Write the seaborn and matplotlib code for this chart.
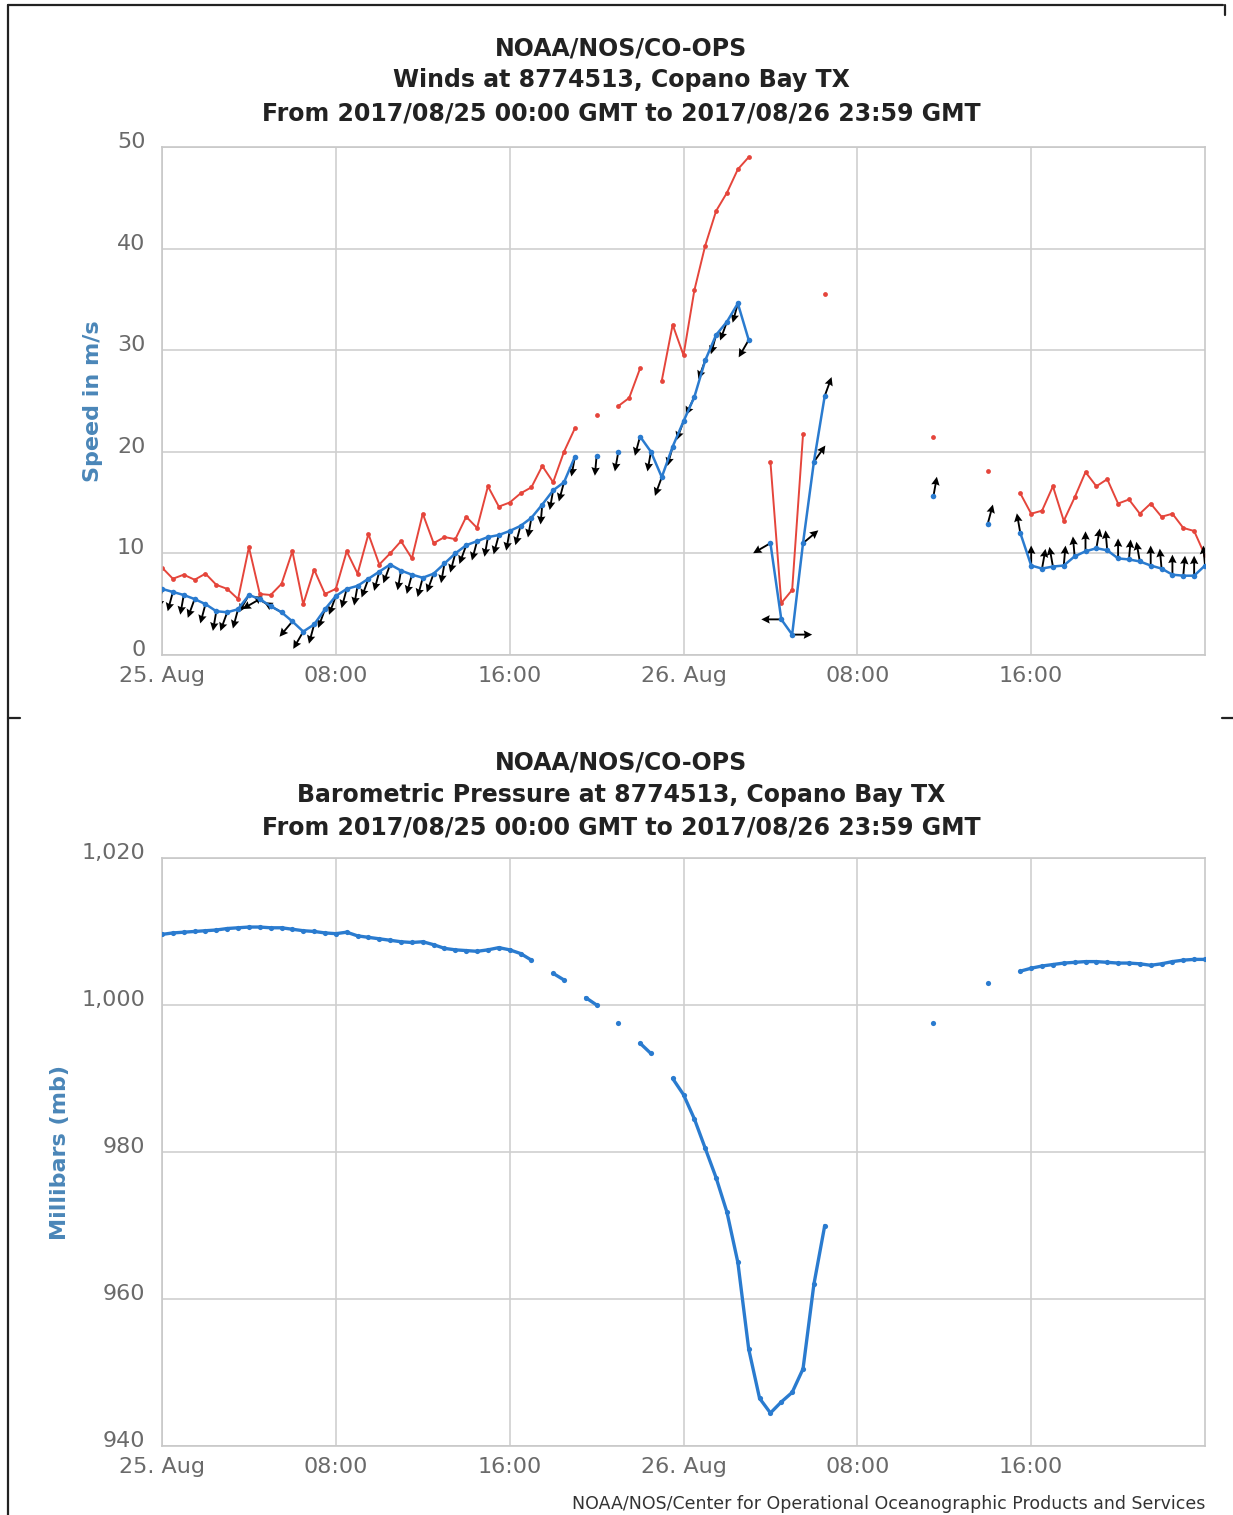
import numpy as np
import pandas as pd
import matplotlib
matplotlib.use("Agg")
import matplotlib.pyplot as plt
import matplotlib.transforms as mtransforms
import seaborn as sns
from matplotlib.lines import Line2D

# 30-minute readings, 25 Aug 00:00 GMT to 27 Aug 00:00 GMT (hours since start)
hours = np.arange(0, 48.5, 0.5)
nan = np.nan

# wind speed (m/s)
speed = [6.5, 6.2, 5.9, 5.5, 5.0, 4.3, 4.2, 4.5,
         5.9, 5.5, 4.8, 4.2, 3.3, 2.3, 3.0, 4.5,
         5.8, 6.5, 6.8, 7.5, 8.2, 8.9, 8.3, 7.9,
         7.6, 8.0, 9.0, 10.0, 10.8, 11.2, 11.6, 11.8,
         12.2, 12.7, 13.5, 14.8, 16.2, 17.0, 19.5, nan,
         19.6, nan, 20.0, nan, 21.5, 20.0, 17.5, 20.5,
         23.0, 25.4, 29.0, 31.5, 32.8, 34.6, 31.0, nan,
         11.0, 3.5, 2.0, 11.0, 19.0, 25.5, nan, nan,
         nan, nan, nan, nan, nan, nan, nan, 15.6,
         nan, nan, nan, nan, 12.9, nan, nan, 12.0,
         8.8, 8.5, 8.7, 8.8, 9.7, 10.2, 10.5, 10.3,
         9.5, 9.4, 9.2, 8.8, 8.5, 7.9, 7.8, 7.8,
         8.8]

# wind gust (m/s)
gust = [8.6, 7.5, 7.9, 7.4, 8.0, 6.9, 6.5, 5.5,
        10.6, 6.0, 5.9, 7.0, 10.2, 5.0, 8.4, 6.0,
        6.5, 10.2, 8.0, 11.9, 8.9, 10.0, 11.2, 9.5,
        13.9, 11.0, 11.6, 11.4, 13.6, 12.5, 16.6, 14.6,
        15.0, 15.9, 16.5, 18.6, 17.0, 20.0, 22.3, nan,
        23.6, nan, 24.5, 25.3, 28.2, nan, 27.0, 32.5,
        29.5, 35.9, 40.3, 43.7, 45.5, 47.8, 49.0, nan,
        19.0, 5.1, 6.4, 21.7, nan, 35.5, nan, nan,
        nan, nan, nan, nan, nan, nan, nan, 21.5,
        nan, nan, nan, nan, 18.1, nan, nan, 15.9,
        13.9, 14.2, 16.6, 13.2, 15.5, 18.0, 16.6, 17.3,
        14.9, 15.3, 13.9, 14.9, 13.6, 13.9, 12.5, 12.2,
        9.8]

# wind direction (degrees, blowing from)
direction = [10, 15, 10, 20, 15, 10, 20, 15,
             30, 60, 120, 120, 40, 30, 15, 20,
             20, 15, 10, 20, 15, 20, 10, 15,
             15, 20, 10, 15, 20, 15, 10, 15,
             10, 15, 10, 5, 10, 15, 10, 10,
             5, 10, 10, 10, 15, 10, 20, 15,
             20, 25, 20, 15, 20, 15, 30, 45,
             60, 90, 270, 230, 215, 200, 200, 200,
             190, 190, 190, 190, 190, 190, 190, 190,
             195, 195, 195, 195, 195, 170, 170, 170,
             180, 190, 170, 185, 175, 180, 190, 175,
             180, 185, 170, 180, 175, 180, 185, 180,
             175]

# barometric pressure (mb)
pressure = [1009.6, 1009.8, 1009.9, 1010.0, 1010.1, 1010.2, 1010.4, 1010.5,
            1010.6, 1010.6, 1010.5, 1010.5, 1010.3, 1010.1, 1010.0, 1009.8,
            1009.7, 1009.9, 1009.4, 1009.2, 1009.0, 1008.8, 1008.6, 1008.5,
            1008.6, 1008.2, 1007.7, 1007.5, 1007.4, 1007.3, 1007.5, 1007.8,
            1007.5, 1007.0, 1006.1, nan, 1004.3, 1003.4, nan, 1001.0,
            1000.0, nan, 997.6, nan, 994.8, 993.4, nan, 990.0,
            987.8, 984.5, 980.5, 976.5, 971.8, 965.0, 953.2, 946.5,
            944.5, 946.0, 947.3, 950.5, 962.0, 970.0, nan, nan,
            nan, nan, nan, nan, nan, nan, nan, 997.6,
            nan, nan, nan, nan, 1003.0, nan, nan, 1004.6,
            1005.0, 1005.3, 1005.5, 1005.7, 1005.8, 1005.9, 1005.9, 1005.8,
            1005.7, 1005.7, 1005.6, 1005.4, 1005.6, 1005.9, 1006.1, 1006.2,
            1006.2]

tick_hours = [0, 8, 16, 24, 32, 40]
tick_labels = ["25. Aug", "08:00", "16:00", "26. Aug", "08:00", "16:00"]

BLUE = "#2a7bcf"
RED = "#e5453b"
LABEL_BLUE = "#4a86b8"
GREY = "#6a6a6a"

sns.set_style("whitegrid")
plt.rcParams["font.family"] = ["DejaVu Sans"]

wind = pd.DataFrame({"hour": hours, "speed": speed, "gust": gust, "direction": direction})
baro = pd.DataFrame({"hour": hours, "pressure": pressure})

fig = plt.figure(figsize=(12.33, 15.15), dpi=100)
ax1 = fig.add_axes([0.1314, 0.5677, 0.8459, 0.3353])
ax2 = fig.add_axes([0.1314, 0.0455, 0.8459, 0.3882])


def draw_series(ax, df, col, color, z, lw=1.4, size=12):
    d = df[["hour", col]].assign(seg=df[col].isna().cumsum()).dropna()
    sns.lineplot(data=d, x="hour", y=col, units="seg", estimator=None,
                 color=color, lw=lw, ax=ax, zorder=z)
    sns.scatterplot(data=d, x="hour", y=col, color=color, s=size,
                    linewidth=0, ax=ax, zorder=z)


# winds
draw_series(ax1, wind, "gust", RED, 2)
arrows = wind.dropna(subset=["speed"])
rad = np.deg2rad(arrows["direction"])
ax1.quiver(arrows["hour"], arrows["speed"], -np.sin(rad), -np.cos(rad),
           angles="uv", scale_units="inches", scale=5, width=0.0018,
           headwidth=4.5, headlength=4.5, headaxislength=4, color="black", zorder=3)
draw_series(ax1, wind, "speed", BLUE, 4, lw=1.8, size=16)

# pressure
draw_series(ax2, baro, "pressure", BLUE, 3, lw=2.4, size=14)

ax1.set_ylim(0, 50)
ax1.set_yticks(range(0, 51, 10))
ax2.set_ylim(940, 1020)
ax2.set_yticks(range(940, 1021, 20))
ax2.set_yticklabels([f"{v:,}" for v in range(940, 1021, 20)])

lift = mtransforms.ScaledTranslation(0, 5 / 72, fig.dpi_scale_trans)
for ax in (ax1, ax2):
    ax.set_xlim(0, 48)
    ax.set_xticks(tick_hours)
    ax.set_xticklabels(tick_labels)
    ax.set_xlabel("")
    ax.grid(True, color="#cfcfcf", lw=1.2)
    ax.tick_params(length=0, labelsize=16, labelcolor=GREY)
    ax.tick_params(axis="x", pad=8)
    ax.tick_params(axis="y", pad=12)
    for s in ax.spines.values():
        s.set_color("#c8c8c8")
        s.set_linewidth(1.2)
    for lab in ax.get_yticklabels():
        lab.set_transform(lab.get_transform() + lift)

ax1.set_ylabel("Speed in m/s", color=LABEL_BLUE, fontsize=16, fontweight="bold", labelpad=10)
ax2.set_ylabel("Millibars (mb)", color=LABEL_BLUE, fontsize=16, fontweight="bold", labelpad=8)

titles_top = ["NOAA/NOS/CO-OPS", "Winds at 8774513, Copano Bay TX",
              "From 2017/08/25 00:00 GMT to 2017/08/26 23:59 GMT"]
titles_bot = ["NOAA/NOS/CO-OPS", "Barometric Pressure at 8774513, Copano Bay TX",
              "From 2017/08/25 00:00 GMT to 2017/08/26 23:59 GMT"]
for text, y in zip(titles_top, [0.9683, 0.9472, 0.9254]):
    fig.text(0.504, y, text, ha="center", va="center", fontsize=17,
             fontweight="bold", color="#222222")
for text, y in zip(titles_bot, [0.4970, 0.4752, 0.4541]):
    fig.text(0.504, y, text, ha="center", va="center", fontsize=17,
             fontweight="bold", color="#222222")

fig.text(0.9773, 0.0075, "NOAA/NOS/Center for Operational Oceanographic Products and Services",
         ha="right", va="center", fontsize=12.5, color="#333333")

# scan frame edges
frame = dict(color="#222222", lw=1.6, transform=fig.transFigure)
fig.add_artist(Line2D([0.0065, 0.0065], [0.0, 0.9967], **frame))
fig.add_artist(Line2D([0.0065, 0.992], [0.9967, 0.9967], **frame))
fig.add_artist(Line2D([0.9935, 0.9935], [0.9967, 0.990], **frame))
fig.add_artist(Line2D([0.0065, 0.016], [0.526, 0.526], **frame))
fig.add_artist(Line2D([0.991, 1.0], [0.526, 0.526], **frame))

fig.savefig("out.png", dpi=100)
